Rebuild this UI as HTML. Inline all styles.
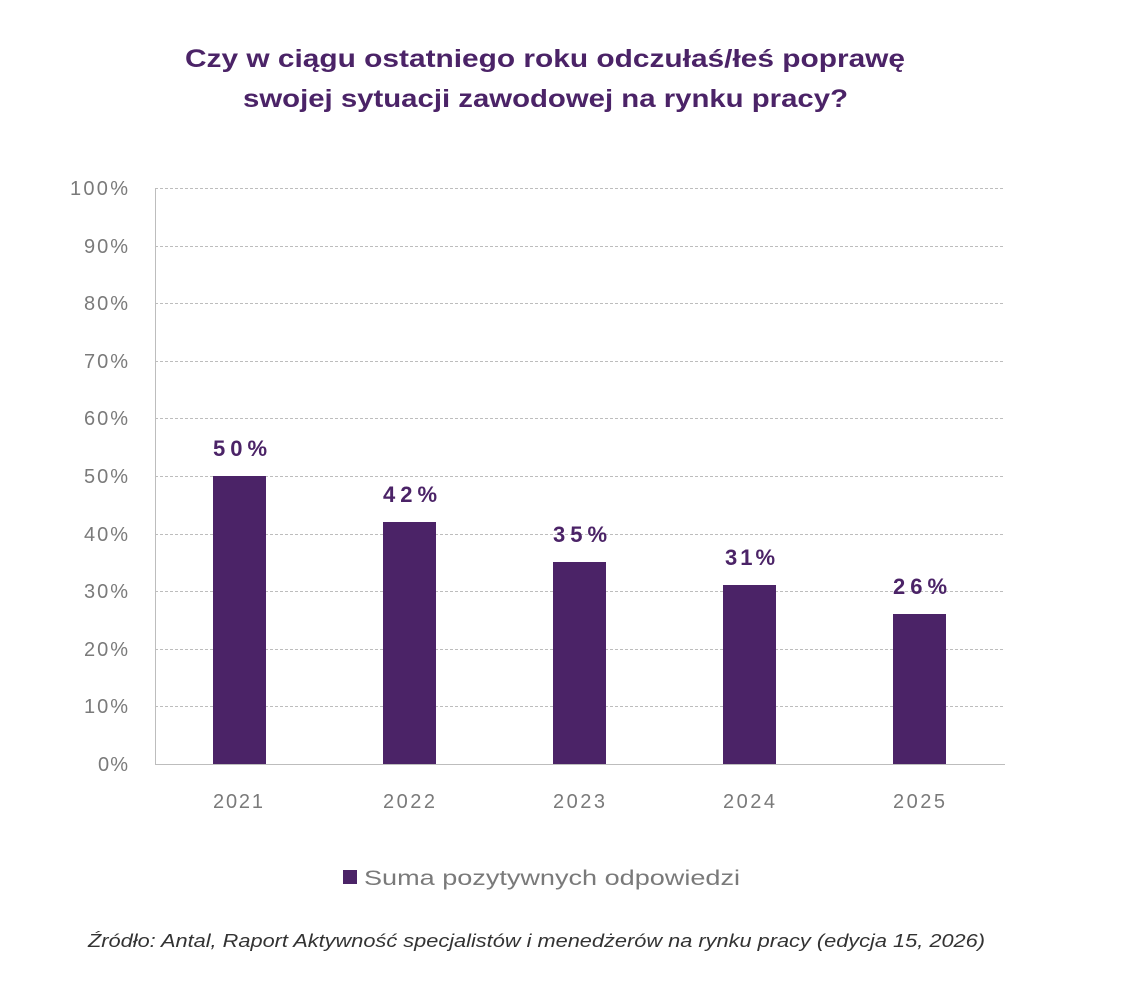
<!DOCTYPE html>
<html><head><meta charset="utf-8"><style>
body{margin:0;background:#fff;width:1134px;height:984px;overflow:hidden;font-family:"Liberation Sans",sans-serif}
</style></head><body>
<svg width="1134" height="984" xmlns="http://www.w3.org/2000/svg" font-family="Liberation Sans, sans-serif">
<text x="185" y="67" font-size="25" font-weight="bold" fill="#4b2367" textLength="720" lengthAdjust="spacingAndGlyphs">Czy w ciągu ostatniego roku odczułaś/łeś poprawę</text>
<text x="243" y="107" font-size="25" font-weight="bold" fill="#4b2367" textLength="605" lengthAdjust="spacingAndGlyphs">swojej sytuacji zawodowej na rynku pracy?</text>
<g stroke="#bdbdbd" stroke-dasharray="3,2" stroke-width="1">
<line x1="155" x2="1005" y1="188.5" y2="188.5"/><line x1="155" x2="1005" y1="246.5" y2="246.5"/>
<line x1="155" x2="1005" y1="303.5" y2="303.5"/><line x1="155" x2="1005" y1="361.5" y2="361.5"/>
<line x1="155" x2="1005" y1="418.5" y2="418.5"/><line x1="155" x2="1005" y1="476.5" y2="476.5"/>
<line x1="155" x2="1005" y1="534.5" y2="534.5"/><line x1="155" x2="1005" y1="591.5" y2="591.5"/>
<line x1="155" x2="1005" y1="649.5" y2="649.5"/><line x1="155" x2="1005" y1="706.5" y2="706.5"/>
</g>
<line x1="155" x2="1005" y1="764.5" y2="764.5" stroke="#bdbdbd"/>
<line x1="155.5" x2="155.5" y1="188" y2="764" stroke="#bdbdbd"/>
<g font-size="20" fill="#7a7a7a" lengthAdjust="spacingAndGlyphs">
<text x="70" y="195" textLength="58">100%</text><text x="84" y="253" textLength="44">90%</text><text x="84" y="310" textLength="44">80%</text>
<text x="84" y="368" textLength="44">70%</text><text x="84" y="425" textLength="44">60%</text><text x="84" y="483" textLength="44">50%</text>
<text x="84" y="541" textLength="44">40%</text><text x="84" y="598" textLength="44">30%</text><text x="84" y="656" textLength="44">20%</text>
<text x="84" y="713" textLength="44">10%</text><text x="98" y="771" textLength="30">0%</text>
</g>
<g fill="#4b2367">
<rect x="213" y="476" width="53" height="288"/>
<rect x="383" y="522" width="53" height="242"/>
<rect x="553" y="562" width="53" height="202"/>
<rect x="723" y="585" width="53" height="179"/>
<rect x="893" y="614" width="53" height="150"/>
</g>
<g font-size="22" font-weight="bold" fill="#4b2367" lengthAdjust="spacingAndGlyphs">
<text x="213" y="456" textLength="54">50%</text><text x="383" y="502" textLength="54">42%</text><text x="553" y="542" textLength="54">35%</text>
<text x="725" y="565" textLength="50">31%</text><text x="893" y="594" textLength="54">26%</text>
</g>
<g font-size="20" fill="#7a7a7a" lengthAdjust="spacingAndGlyphs">
<text x="213" y="808" textLength="50">2021</text><text x="383" y="808" textLength="52">2022</text><text x="553" y="808" textLength="52">2023</text>
<text x="723" y="808" textLength="52">2024</text><text x="893" y="808" textLength="52">2025</text>
</g>
<rect x="343" y="870" width="14" height="14" fill="#4b2367"/>
<text x="364" y="885" font-size="21" fill="#7a7a7a" textLength="376" lengthAdjust="spacingAndGlyphs">Suma pozytywnych odpowiedzi</text>
<text x="88" y="947" font-size="18" font-style="italic" fill="#333" textLength="897" lengthAdjust="spacingAndGlyphs">Źródło: Antal, Raport Aktywność specjalistów i menedżerów na rynku pracy (edycja 15, 2026)</text>
</svg>
</body></html>
